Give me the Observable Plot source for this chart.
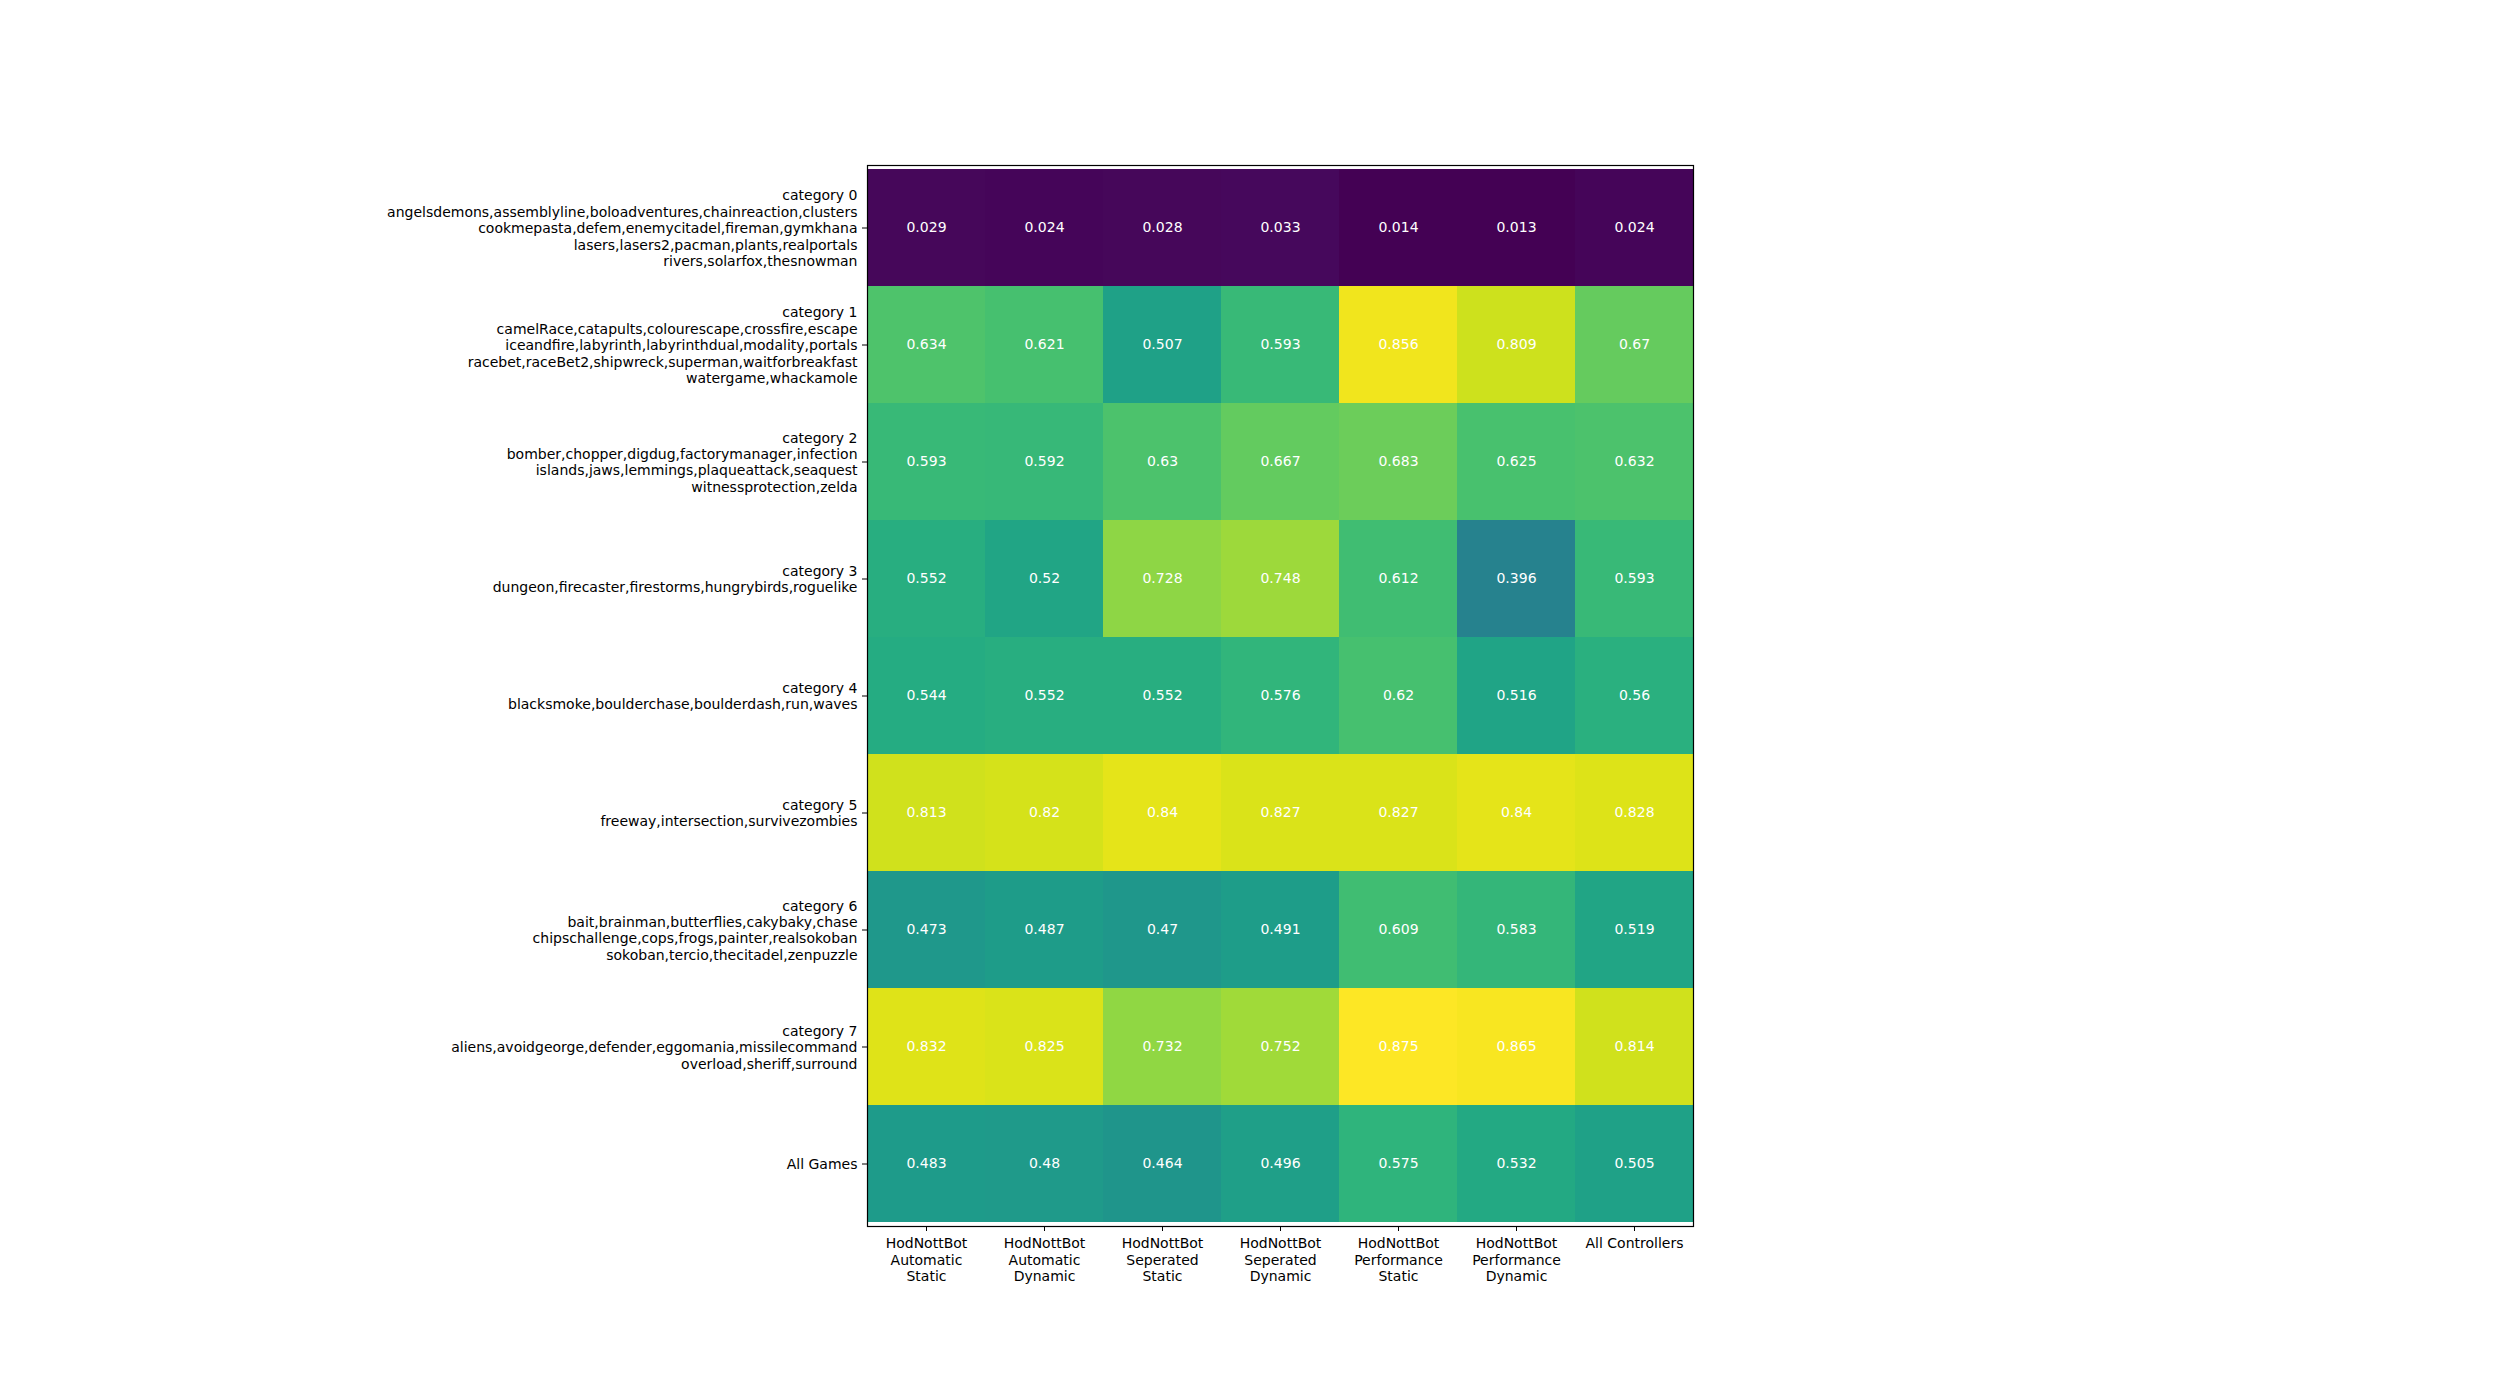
<!DOCTYPE html>
<html>
<head>
<meta charset="utf-8">
<script src="https://cdn.jsdelivr.net/npm/d3@7"></script>
<script src="https://cdn.jsdelivr.net/npm/@observablehq/plot@0.6"></script>
<style>
  html, body { margin: 0; padding: 0; background: #fff; }
  #chart svg { display: block; }
</style>
</head>
<body>
<div id="chart"></div>
<script>
const rowLabels = [
  "category 0\nangelsdemons,assemblyline,boloadventures,chainreaction,clusters\ncookmepasta,defem,enemycitadel,fireman,gymkhana\nlasers,lasers2,pacman,plants,realportals\nrivers,solarfox,thesnowman",
  "category 1\ncamelRace,catapults,colourescape,crossfire,escape\niceandfire,labyrinth,labyrinthdual,modality,portals\nracebet,raceBet2,shipwreck,superman,waitforbreakfast\nwatergame,whackamole",
  "category 2\nbomber,chopper,digdug,factorymanager,infection\nislands,jaws,lemmings,plaqueattack,seaquest\nwitnessprotection,zelda",
  "category 3\ndungeon,firecaster,firestorms,hungrybirds,roguelike",
  "category 4\nblacksmoke,boulderchase,boulderdash,run,waves",
  "category 5\nfreeway,intersection,survivezombies",
  "category 6\nbait,brainman,butterflies,cakybaky,chase\nchipschallenge,cops,frogs,painter,realsokoban\nsokoban,tercio,thecitadel,zenpuzzle",
  "category 7\naliens,avoidgeorge,defender,eggomania,missilecommand\noverload,sheriff,surround",
  "All Games"
];

const colLabels = [
  "HodNottBot\nAutomatic\nStatic",
  "HodNottBot\nAutomatic\nDynamic",
  "HodNottBot\nSeperated\nStatic",
  "HodNottBot\nSeperated\nDynamic",
  "HodNottBot\nPerformance\nStatic",
  "HodNottBot\nPerformance\nDynamic",
  "All Controllers"
];

const row0 = [0.029, 0.024, 0.028, 0.033, 0.014, 0.013, 0.024];
const row1 = [0.634, 0.621, 0.507, 0.593, 0.856, 0.809, 0.67];
const row2 = [0.593, 0.592, 0.63, 0.667, 0.683, 0.625, 0.632];
const row3 = [0.552, 0.52, 0.728, 0.748, 0.612, 0.396, 0.593];
const row4 = [0.544, 0.552, 0.552, 0.576, 0.62, 0.516, 0.56];
const row5 = [0.813, 0.82, 0.84, 0.827, 0.827, 0.84, 0.828];
const row6 = [0.473, 0.487, 0.47, 0.491, 0.609, 0.583, 0.519];
const row7 = [0.832, 0.825, 0.732, 0.752, 0.875, 0.865, 0.814];
const row8 = [0.483, 0.48, 0.464, 0.496, 0.575, 0.532, 0.505];

const rows = [row0, row1, row2, row3, row4, row5, row6, row7, row8];

const data = [];
rows.forEach((vals, i) => {
  vals.forEach((v, j) => {
    data.push({row: rowLabels[i], col: colLabels[j], value: v});
  });
});

const ext = d3.extent(data, d => d.value);

const chart = Plot.plot({
  width: 2497,
  height: 1377,
  marginLeft: 867,
  marginRight: 804,
  marginTop: 165,
  marginBottom: 151,
  style: {fontFamily: "'DejaVu Sans', sans-serif", fontSize: "14px", background: "#fff"},
  x: {domain: colLabels, padding: 0, label: null},
  y: {domain: rowLabels, padding: 0, label: null},
  color: {type: "linear", scheme: "viridis", domain: ext},
  marks: [
    Plot.cell(data, {x: "col", y: "row", fill: "value", inset: 0, shapeRendering: "crispEdges"}),
    Plot.text(data, {x: "col", y: "row", text: d => String(d.value), fill: "white", fontSize: 14}),
    Plot.frame({stroke: "black", strokeWidth: 1.2}),
    Plot.axisX({anchor: "bottom", tickSize: 5, tickPadding: 5, fontSize: 14, lineHeight: 1.17, label: null, fill: "#000", stroke: "#000"}),
    Plot.axisY({anchor: "left", tickSize: 5, tickPadding: 5, fontSize: 14, lineHeight: 1.17, label: null, fill: "#000", stroke: "#000"})
  ]
});

document.getElementById("chart").appendChild(chart);
</script>
</body>
</html>
